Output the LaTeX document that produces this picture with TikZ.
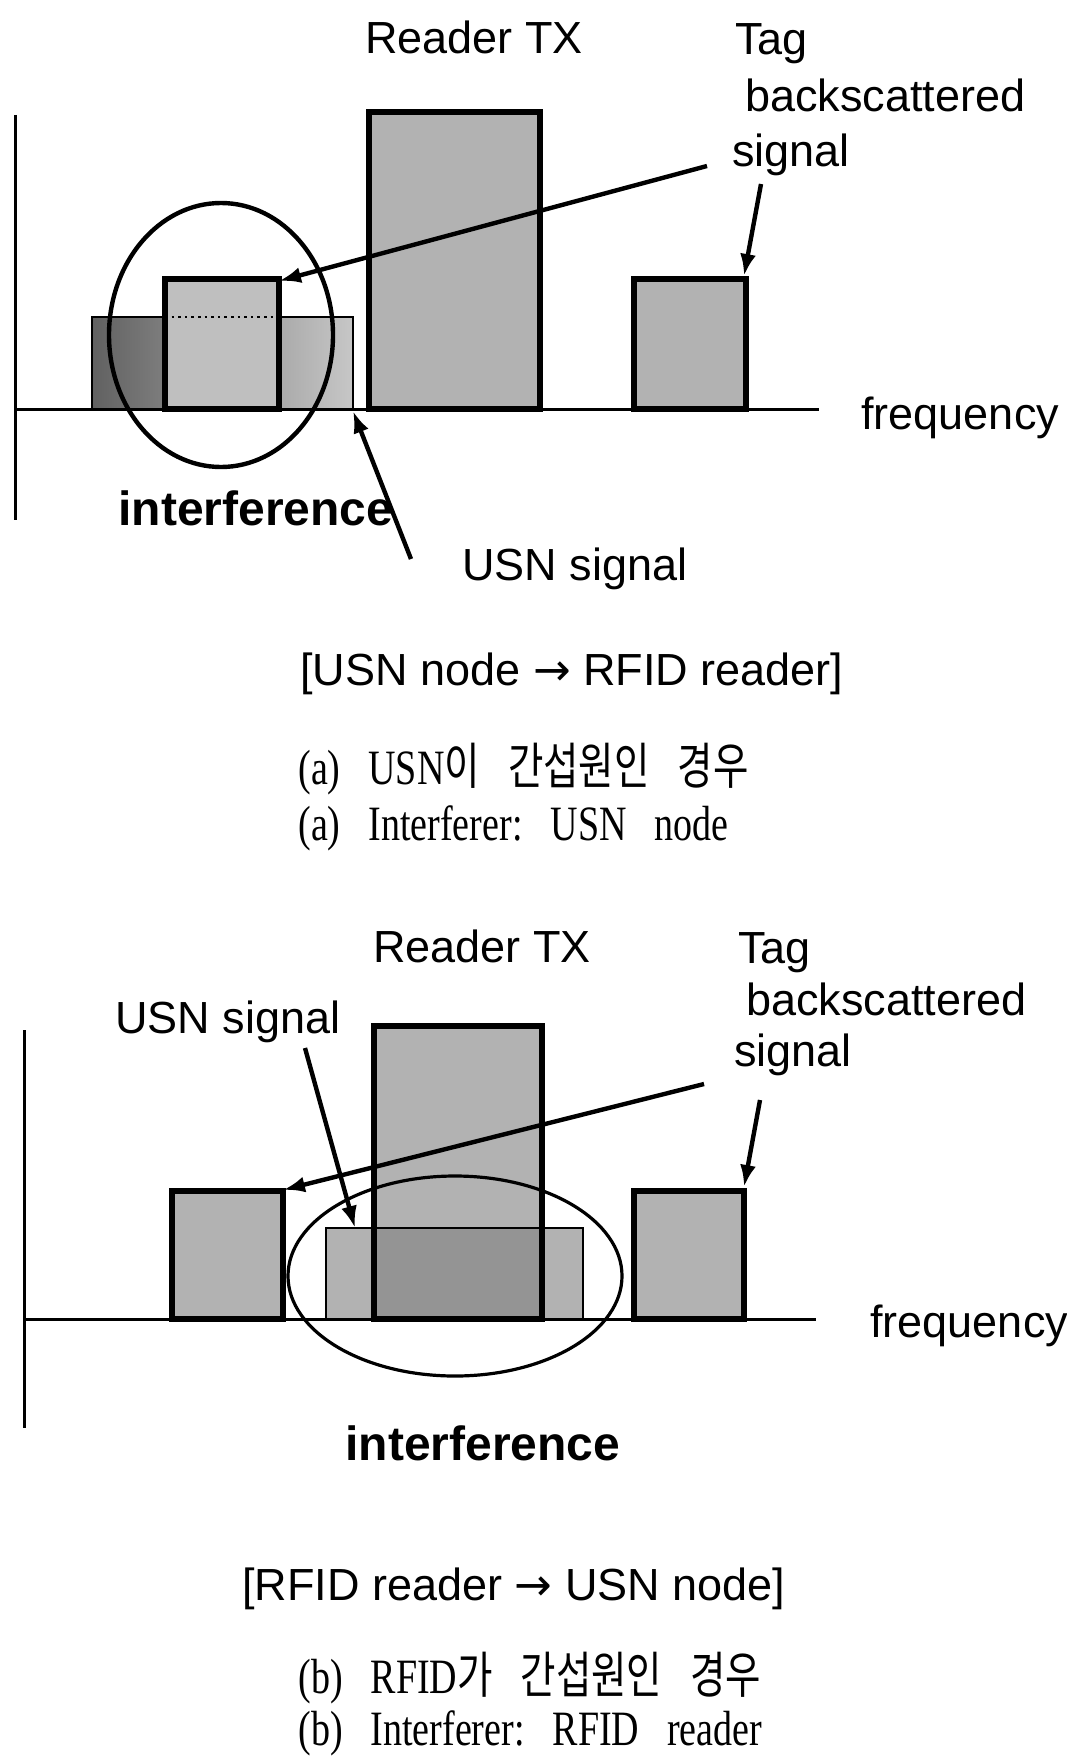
\documentclass[tikz,border=0pt]{standalone}
\usepackage{graphicx}
\usepackage{fontspec}
\setmainfont{Liberation Serif}
\setsansfont{Liberation Sans}
\newfontfamily\krfont{Noto Sans CJK KR}
\newfontfamily\symfont{DejaVu Sans}
\usetikzlibrary{arrows.meta,positioning}
\newcommand{\hg}[1]{{\krfont\fontsize{19.25}{22}\selectfont #1}}
\newcommand{\gap}{\hspace{14pt}}
\newcommand{\tallcap}[1]{\scalebox{1}[1.3]{#1}}

\begin{document}
\begin{tikzpicture}[
    x=0.5pt, y=-0.5pt,
    axis/.style={line width=1.5pt},
    bar/.style={draw,line width=2.6pt,fill=black!30},
    usn/.style={draw,line width=1pt,fill=black!30},
    ring/.style={line width=2.2pt},
    ar/.style={-{Latex[length=11pt,width=8pt]},line width=2.2pt},
    lbl/.style={font=\sffamily\fontsize{22.5}{27}\selectfont,inner sep=0pt,anchor=base west},
    hot/.style={font=\sffamily\bfseries\fontsize{24}{28}\selectfont,inner sep=0pt,anchor=base west},
    captxt/.style={font=\fontsize{19}{23}\selectfont,inner sep=0pt,anchor=base west}
  ]
  \useasboundingbox (0,0) rectangle (1066,1760);

  % (a) USN node disturbs the reader
  \draw[axis] (15,115) -- (15,520);
  \draw[axis] (15,409) -- (819,409);
  \draw[usn,left color=black!62,right color=black!22] (92,317) rectangle (353,409);
  \draw[bar,fill=black!25] (165,279) rectangle (279,409);
  \draw[dotted,line width=1.3pt] (165,317) -- (279,317);
  \draw[bar] (369,112) rectangle (540,409);
  \draw[bar] (634,279) rectangle (746,409);
  \draw[ring] (221,335) ellipse [x radius=112, y radius=132];

  \node[lbl] (readerA) at (365,54) {Reader TX};
  \node[lbl] (tagA) at (735,55) {Tag};
  \node[lbl] (bsA) at (745,112) {backscattered};
  \node[lbl] (sigA) at (732,167) {signal};
  \node[lbl] (freqA) at (861,429) {frequency};
  \node[hot] (hotA) at (118,525) {interference};
  \node[lbl] (usnTxtA) at (462,580) {USN signal};

  \coordinate (bsTailA) at (707,166);
  \coordinate (midTagA) at (279,281);
  \coordinate (sigTailA) at (761,184);
  \coordinate (rTagA) at (744,276);
  \coordinate (usnTailA) at (411,559);
  \coordinate (usnA) at (353,411);
  \draw[ar] (bsTailA) -- (midTagA);
  \draw[ar] (sigTailA) -- (rTagA);
  \draw[ar] (usnTailA) -- (usnA);

  \node[lbl] (caseA) at (300,685) {[USN node {\symfont →} RFID reader]};
  \node[captxt] (krA) at (298,784) {\tallcap{(a)\gap USN\hg{이}\gap\hg{간섭원인}\gap\hg{경우}}};
  \node[captxt,below=28pt of krA.base west,anchor=base west] (enA) {\tallcap{(a)\gap Interferer:\gap USN\gap node}};

  % (b) reader disturbs the USN node
  \draw[axis] (24,1030) -- (24,1428);
  \draw[axis] (24,1319) -- (816,1319);
  \draw[bar] (172,1191) rectangle (283,1319);
  \fill[black!30] (326,1228) rectangle (583,1319);
  \fill[black!30] (374,1026) rectangle (542,1319);
  \fill[black!42] (374,1228) rectangle (542,1319);
  \draw[line width=1pt] (326,1228) rectangle (583,1319);
  \draw[line width=2.6pt] (374,1026) rectangle (542,1319);
  \draw[bar] (634,1191) rectangle (744,1319);
  \draw[ring,line width=1.6pt] (455,1276) ellipse [x radius=167, y radius=100];

  \node[lbl] (readerB) at (373,962) {Reader TX};
  \node[lbl] (tagB) at (738,963) {Tag};
  \node[lbl] (bsB) at (746,1015) {backscattered};
  \node[lbl] (sigB) at (734,1066) {signal};
  \node[lbl] (freqB) at (870,1337) {frequency};
  \node[hot] (hotB) at (345,1460) {interference};
  \node[lbl] (usnTxtB) at (115,1033) {USN signal};

  \coordinate (usnTailB) at (305,1048);
  \coordinate (usnB) at (355,1228);
  \coordinate (bsTailB) at (704,1084);
  \coordinate (lTagB) at (283,1190);
  \coordinate (sigTailB) at (760,1100);
  \coordinate (rTagB) at (744,1187);
  \draw[ar] (usnTailB) -- (usnB);
  \draw[ar] (bsTailB) -- (lTagB);
  \draw[ar] (sigTailB) -- (rTagB);

  \node[lbl] (caseB) at (242,1600) {[RFID reader {\symfont →} USN node]};
  \node[captxt] (krB) at (298,1693) {\tallcap{(b)\gap RFID\hg{가}\gap\hg{간섭원인}\gap\hg{경우}}};
  \node[captxt,below=26pt of krB.base west,anchor=base west] (enB) {\tallcap{(b)\gap Interferer:\gap RFID\gap reader}};
\end{tikzpicture}
\end{document}
